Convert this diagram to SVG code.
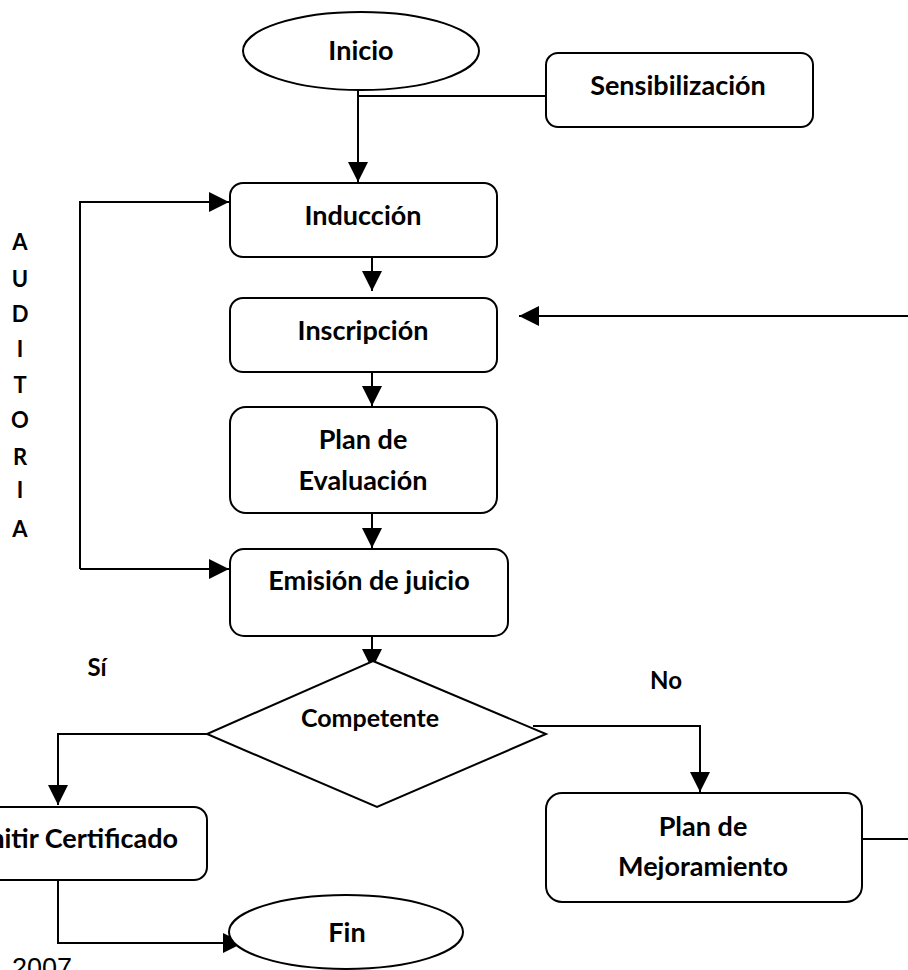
<svg xmlns="http://www.w3.org/2000/svg" width="908" height="970" viewBox="0 0 908 970">
<style>
.shape{fill:#fff;stroke:#000;stroke-width:2}
.t{font-family:Lato,"Open Sans",sans-serif;font-weight:bold;font-size:27px;fill:#000;text-anchor:middle}
.c{fill:none;stroke:#000;stroke-width:2}
</style>
<defs>
<marker id="ah" markerUnits="userSpaceOnUse" markerWidth="21" markerHeight="21" refX="20" refY="10" orient="auto">
<path d="M0,0 L20,10 L0,20 z" fill="#000"/>
</marker>
</defs>
<rect width="908" height="970" fill="#fff"/>
<g id="connectors">
<path class="c" d="M546,96 H358"/>
<path class="c" d="M358,90 V182" marker-end="url(#ah)"/>
<path class="c" d="M372,257 V291" marker-end="url(#ah)"/>
<path class="c" d="M372,372 V406" marker-end="url(#ah)"/>
<path class="c" d="M372,513 V548" marker-end="url(#ah)"/>
<path class="c" d="M372,636 V669" marker-end="url(#ah)"/>
<path class="c" d="M80,569 V202 H229" marker-end="url(#ah)"/>
<path class="c" d="M80,569 H229" marker-end="url(#ah)"/>
<path class="c" d="M908,316 H519" marker-end="url(#ah)"/>
<path class="c" d="M207,734 H58 V805" marker-end="url(#ah)"/>
<path class="c" d="M533,726 H700 V792" marker-end="url(#ah)"/>
<path class="c" d="M862,839 H908"/>
<path class="c" d="M58,880 V943 H243" marker-end="url(#ah)"/>
</g>
<g id="inicio">
<ellipse class="shape" cx="361" cy="51" rx="118" ry="39"/>
<text class="t" x="361" y="60">Inicio</text>
</g>
<g id="sensibilizacion">
<rect class="shape" x="546" y="53" width="267" height="74" rx="12"/>
<text class="t" x="678" y="95">Sensibilización</text>
</g>
<g id="induccion">
<rect class="shape" x="230" y="183" width="267" height="74" rx="13"/>
<text class="t" x="363" y="225">Inducción</text>
</g>
<g id="inscripcion">
<rect class="shape" x="230" y="298" width="267" height="74" rx="13"/>
<text class="t" x="363" y="340">Inscripción</text>
</g>
<g id="plan-evaluacion">
<rect class="shape" x="230" y="407" width="267" height="106" rx="16"/>
<text class="t" x="363" y="449">Plan de</text>
<text class="t" x="363" y="490">Evaluación</text>
</g>
<g id="emision">
<rect class="shape" x="230" y="549" width="278" height="87" rx="14"/>
<text class="t" x="369" y="590">Emisión de juicio</text>
</g>
<g id="competente">
<polygon class="shape" points="373,661 546,734 377,807 207,734"/>
<text class="t" x="370" y="727" style="font-size:25px">Competente</text>
</g>
<g id="emitir">
<rect class="shape" x="-70" y="807" width="277" height="73" rx="13"/>
<text class="t" x="178" y="848" style="text-anchor:end">Emitir Certificado</text>
</g>
<g id="plan-mejoramiento">
<rect class="shape" x="546" y="793" width="316" height="109" rx="16"/>
<text class="t" x="703" y="836">Plan de</text>
<text class="t" x="703" y="876">Mejoramiento</text>
</g>
<g id="fin">
<ellipse class="shape" cx="346" cy="932" rx="117" ry="37"/>
<text class="t" x="347" y="942">Fin</text>
</g>
<g id="labels">
<text class="t" x="97" y="676" style="font-size:24px">Sí</text>
<text class="t" x="666" y="689" style="font-size:24px">No</text>
<text class="t" x="20" y="250" style="font-size:22px">A</text>
<text class="t" x="20" y="287" style="font-size:22px">U</text>
<text class="t" x="20" y="322" style="font-size:22px">D</text>
<text class="t" x="20" y="357" style="font-size:22px">I</text>
<text class="t" x="20" y="393" style="font-size:22px">T</text>
<text class="t" x="20" y="428" style="font-size:22px">O</text>
<text class="t" x="20" y="465" style="font-size:22px">R</text>
<text class="t" x="20" y="498" style="font-size:22px">I</text>
<text class="t" x="20" y="537" style="font-size:22px">A</text>
<text x="12" y="977" style="font-family:'Liberation Sans',Arial,sans-serif;font-size:27px;fill:#000">2007</text>
</g>
</svg>
